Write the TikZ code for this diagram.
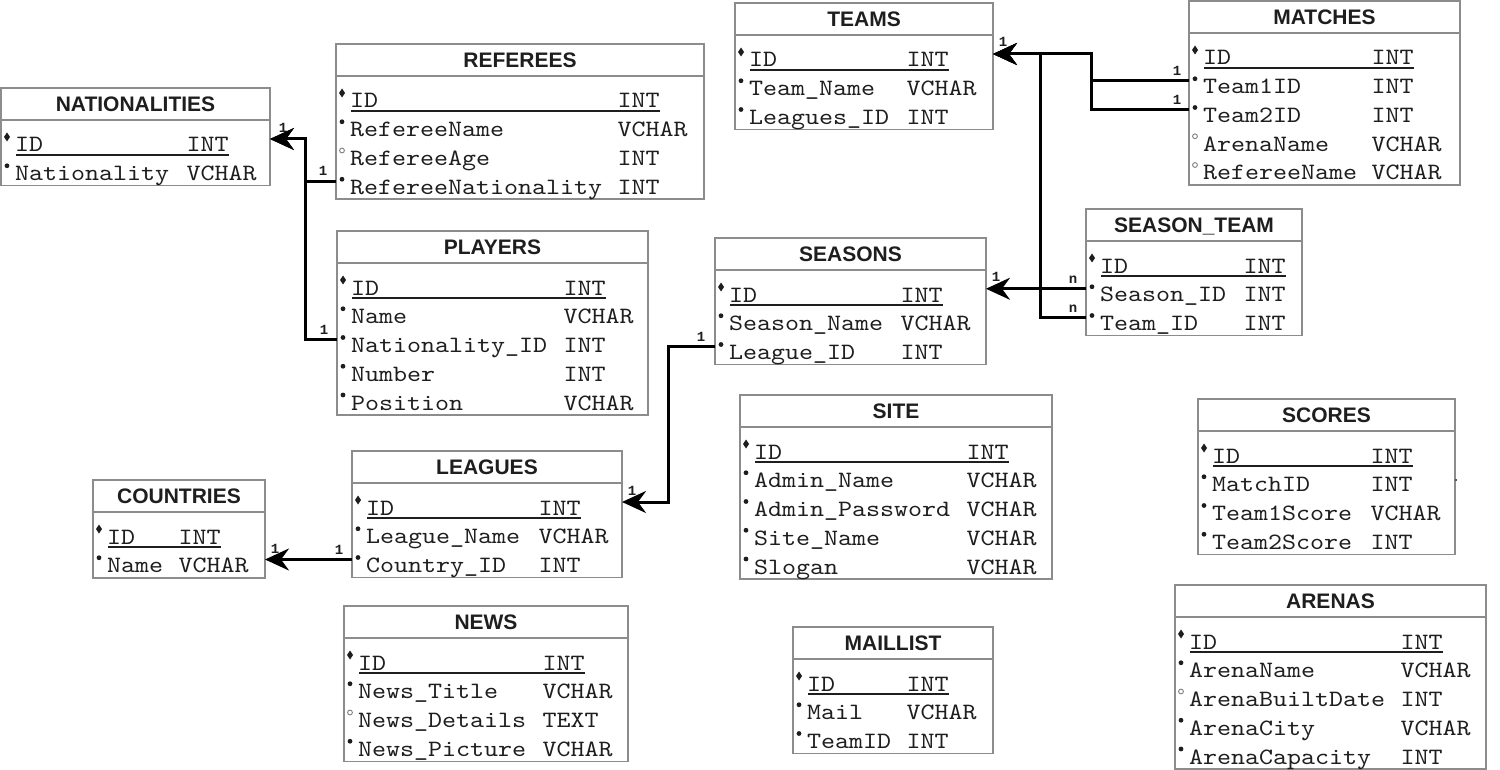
\documentclass[tikz,border=0pt]{standalone}
\usepackage{fontspec}
\setmainfont{Liberation Sans}
\newfontfamily\erdmono[FakeStretch=1.14]{lmmono10-regular.otf}
\newfontfamily\erdcard{Liberation Mono}
\usetikzlibrary{arrows.meta,calc}
\definecolor{bordergray}{HTML}{8C8C8C}
\definecolor{inkc}{HTML}{1E1E1E}
\tikzset{
  hdrbox/.style={draw=bordergray, line width=1.5pt, inner sep=0pt, outer sep=0pt,
    minimum height=32pt, text height=15pt, text depth=0pt,
    font=\fontsize{21}{21}\selectfont\bfseries, text=inkc, fill=white},
  bodybox/.style={draw=bordergray, line width=1.5pt, inner sep=0pt, outer sep=0pt, fill=white},
  coltxt/.style={inner sep=0pt, outer sep=0pt, anchor=base west,
    font=\fontsize{23.4}{23.4}\selectfont\erdmono, text=inkc},
  card/.style={inner sep=0pt, font=\fontsize{14}{14}\selectfont\erdcard\bfseries, text=inkc},
  fk/.style={line width=3pt, draw=black, line join=miter,
    -{Stealth[length=24pt,width=22pt,inset=8pt]}}
}
\newcommand{\erdmkp}[1]{\fill[inkc] ($(#1)+(0,-4.5)$) -- ($(#1)+(3,0)$) -- ($(#1)+(0,4.5)$) -- ($(#1)+(-3,0)$) -- cycle;}
\newcommand{\erdmkm}[1]{\fill[inkc] (#1) circle (2.4pt);}
\newcommand{\erdmko}[1]{\draw[gray, line width=0.9pt] (#1) circle (2.4pt);}
% name, x0, x1, y0, col2, title, nrows, rows
\newcommand{\erd}[8]{%
  \pgfmathsetmacro{\erdw}{#3-#2}%
  \pgfmathsetmacro{\erdh}{25+(#7-1)*28.75+12}%
  \node[hdrbox, minimum width=\erdw pt, anchor=north west] (#1-h) at (#2,#4) {#6};
  \node[bodybox, minimum width=\erdw pt, minimum height=\erdh pt, anchor=north west] (#1) at (#2,#4+32) {};
  \foreach \fm/\fa/\fb [count=\i] in {#8} {
    \pgfmathsetmacro{\yc}{#4+57+(\i-1)*28.75}
    \node[coltxt] (#1-a\i) at (#2+14,\yc+7) {\fa};
    \node[coltxt] (#1-b\i) at (#5-1.5,\yc+7) {\fb};
    \coordinate (#1-L\i) at (#2,\yc-6);
    \coordinate (#1-R\i) at (#3,\yc-6);
    \coordinate (#1-k\i) at (#2+6,\yc-8);
    \csname erdmk\fm\endcsname{#1-k\i}
  }
  \draw[inkc, line width=1.4pt] (#2+15,#4+57+10) -- (#5+41,#4+57+10);
}
\begin{document}
\begin{tikzpicture}[x=1pt,y=-1pt]
\fill[white] (0,0) rectangle (1500,770);
\useasboundingbox (0,0) rectangle (1500,770);

\erd{nat}{1}{270}{88}{188}{NATIONALITIES}{2}{p/ID/INT, m/Nationality/VCHAR}
\erd{ref}{336}{704}{44}{619}{REFEREES}{4}{p/ID/INT, m/RefereeName/VCHAR, o/RefereeAge/INT, m/RefereeNationality/INT}
\erd{tea}{735}{993}{3}{908}{TEAMS}{3}{p/ID/INT, m/Team\_Name/VCHAR, m/Leagues\_ID/INT}
\erd{mat}{1189}{1460}{1}{1373}{MATCHES}{5}{p/ID/INT, m/Team1ID/INT, m/Team2ID/INT, o/ArenaName/VCHAR, o/RefereeName/VCHAR}
\erd{st}{1086}{1302}{209}{1245}{SEASON\_TEAM}{3}{p/ID/INT, m/Season\_ID/INT, m/Team\_ID/INT}
\erd{sea}{715}{986}{238}{902}{SEASONS}{3}{p/ID/INT, m/Season\_Name/VCHAR, m/League\_ID/INT}
\erd{sit}{740}{1052}{395}{968}{SITE}{5}{p/ID/INT, m/Admin\_Name/VCHAR, m/Admin\_Password/VCHAR, m/Site\_Name/VCHAR, m/Slogan/VCHAR}
\erd{pla}{337}{648}{231}{565}{PLAYERS}{5}{p/ID/INT, m/Name/VCHAR, m/Nationality\_ID/INT, m/Number/INT, m/Position/VCHAR}
\erd{lea}{352}{622}{451}{540}{LEAGUES}{3}{p/ID/INT, m/League\_Name/VCHAR, m/Country\_ID/INT}
\erd{cou}{93}{265}{480}{180}{COUNTRIES}{2}{p/ID/INT, m/Name/VCHAR}
\erd{new}{344}{628}{606}{544}{NEWS}{4}{p/ID/INT, m/News\_Title/VCHAR, o/News\_Details/TEXT, m/News\_Picture/VCHAR}
\erd{mai}{793}{993}{627}{908}{MAILLIST}{3}{p/ID/INT, m/Mail/VCHAR, m/TeamID/INT}
\erd{sco}{1198}{1455}{399}{1372}{SCORES}{4}{p/ID/INT, m/MatchID/INT, m/Team1Score/VCHAR, m/Team2Score/INT}
\erd{are}{1175}{1486}{585}{1402}{ARENAS}{5}{p/ID/INT, m/ArenaName/VCHAR, o/ArenaBuiltDate/INT, m/ArenaCity/VCHAR, m/ArenaCapacity/INT}

\fill[inkc] (1456,480) circle (1pt);

% cardinality labels
\node[card] (c1) at ($(ref-L4)+(-13,-10)$) {1};
\node[card] (c2) at ($(nat-R1)+(13,-11)$) {1};
\node[card] (c3) at ($(pla-L3)+(-13,-10)$) {1};
\node[card] (c4) at ($(lea-L3)+(-13,-10)$) {1};
\node[card] (c5) at ($(cou-R2)+(10,-11)$) {1};
\node[card] (c6) at ($(sea-L3)+(-14,-10)$) {1};
\node[card] (c7) at ($(lea-R1)+(10,-11)$) {1};
\node[card] (c8) at ($(st-L2)+(-13,-9)$) {n};
\node[card] (c9) at ($(st-L3)+(-13,-9)$) {n};
\node[card] (c10) at ($(sea-R1)+(10,-12)$) {1};
\node[card] (c11) at ($(mat-L2)+(-12,-10)$) {1};
\node[card] (c12) at ($(mat-L3)+(-12,-10)$) {1};
\node[card] (c13) at ($(tea-R1)+(10,-12)$) {1};

% connectors
\draw[fk] (ref-L4) -| ($(nat-R1)+(35,0)$) -- (nat-R1);
\draw[fk] (pla-L3) -| ($(nat-R1)+(35,0)$) -- (nat-R1);
\draw[fk] (lea-L3) -- (cou-R2 |- lea-L3);
\draw[fk] (sea-L3) -| ($(lea-R1)+(46,0)$) -- (lea-R1);
\draw[fk] (st-L2) -- (sea-R1 |- st-L2);
\draw[fk] (st-L3) -| ($(tea-R1)+(47,0)$) -- (tea-R1);
\draw[fk] (mat-L2) -| ($(tea-R1)+(98,0)$) -- (tea-R1);
\draw[fk] (mat-L3) -| ($(tea-R1)+(98,0)$) -- (tea-R1);
\end{tikzpicture}
\end{document}
